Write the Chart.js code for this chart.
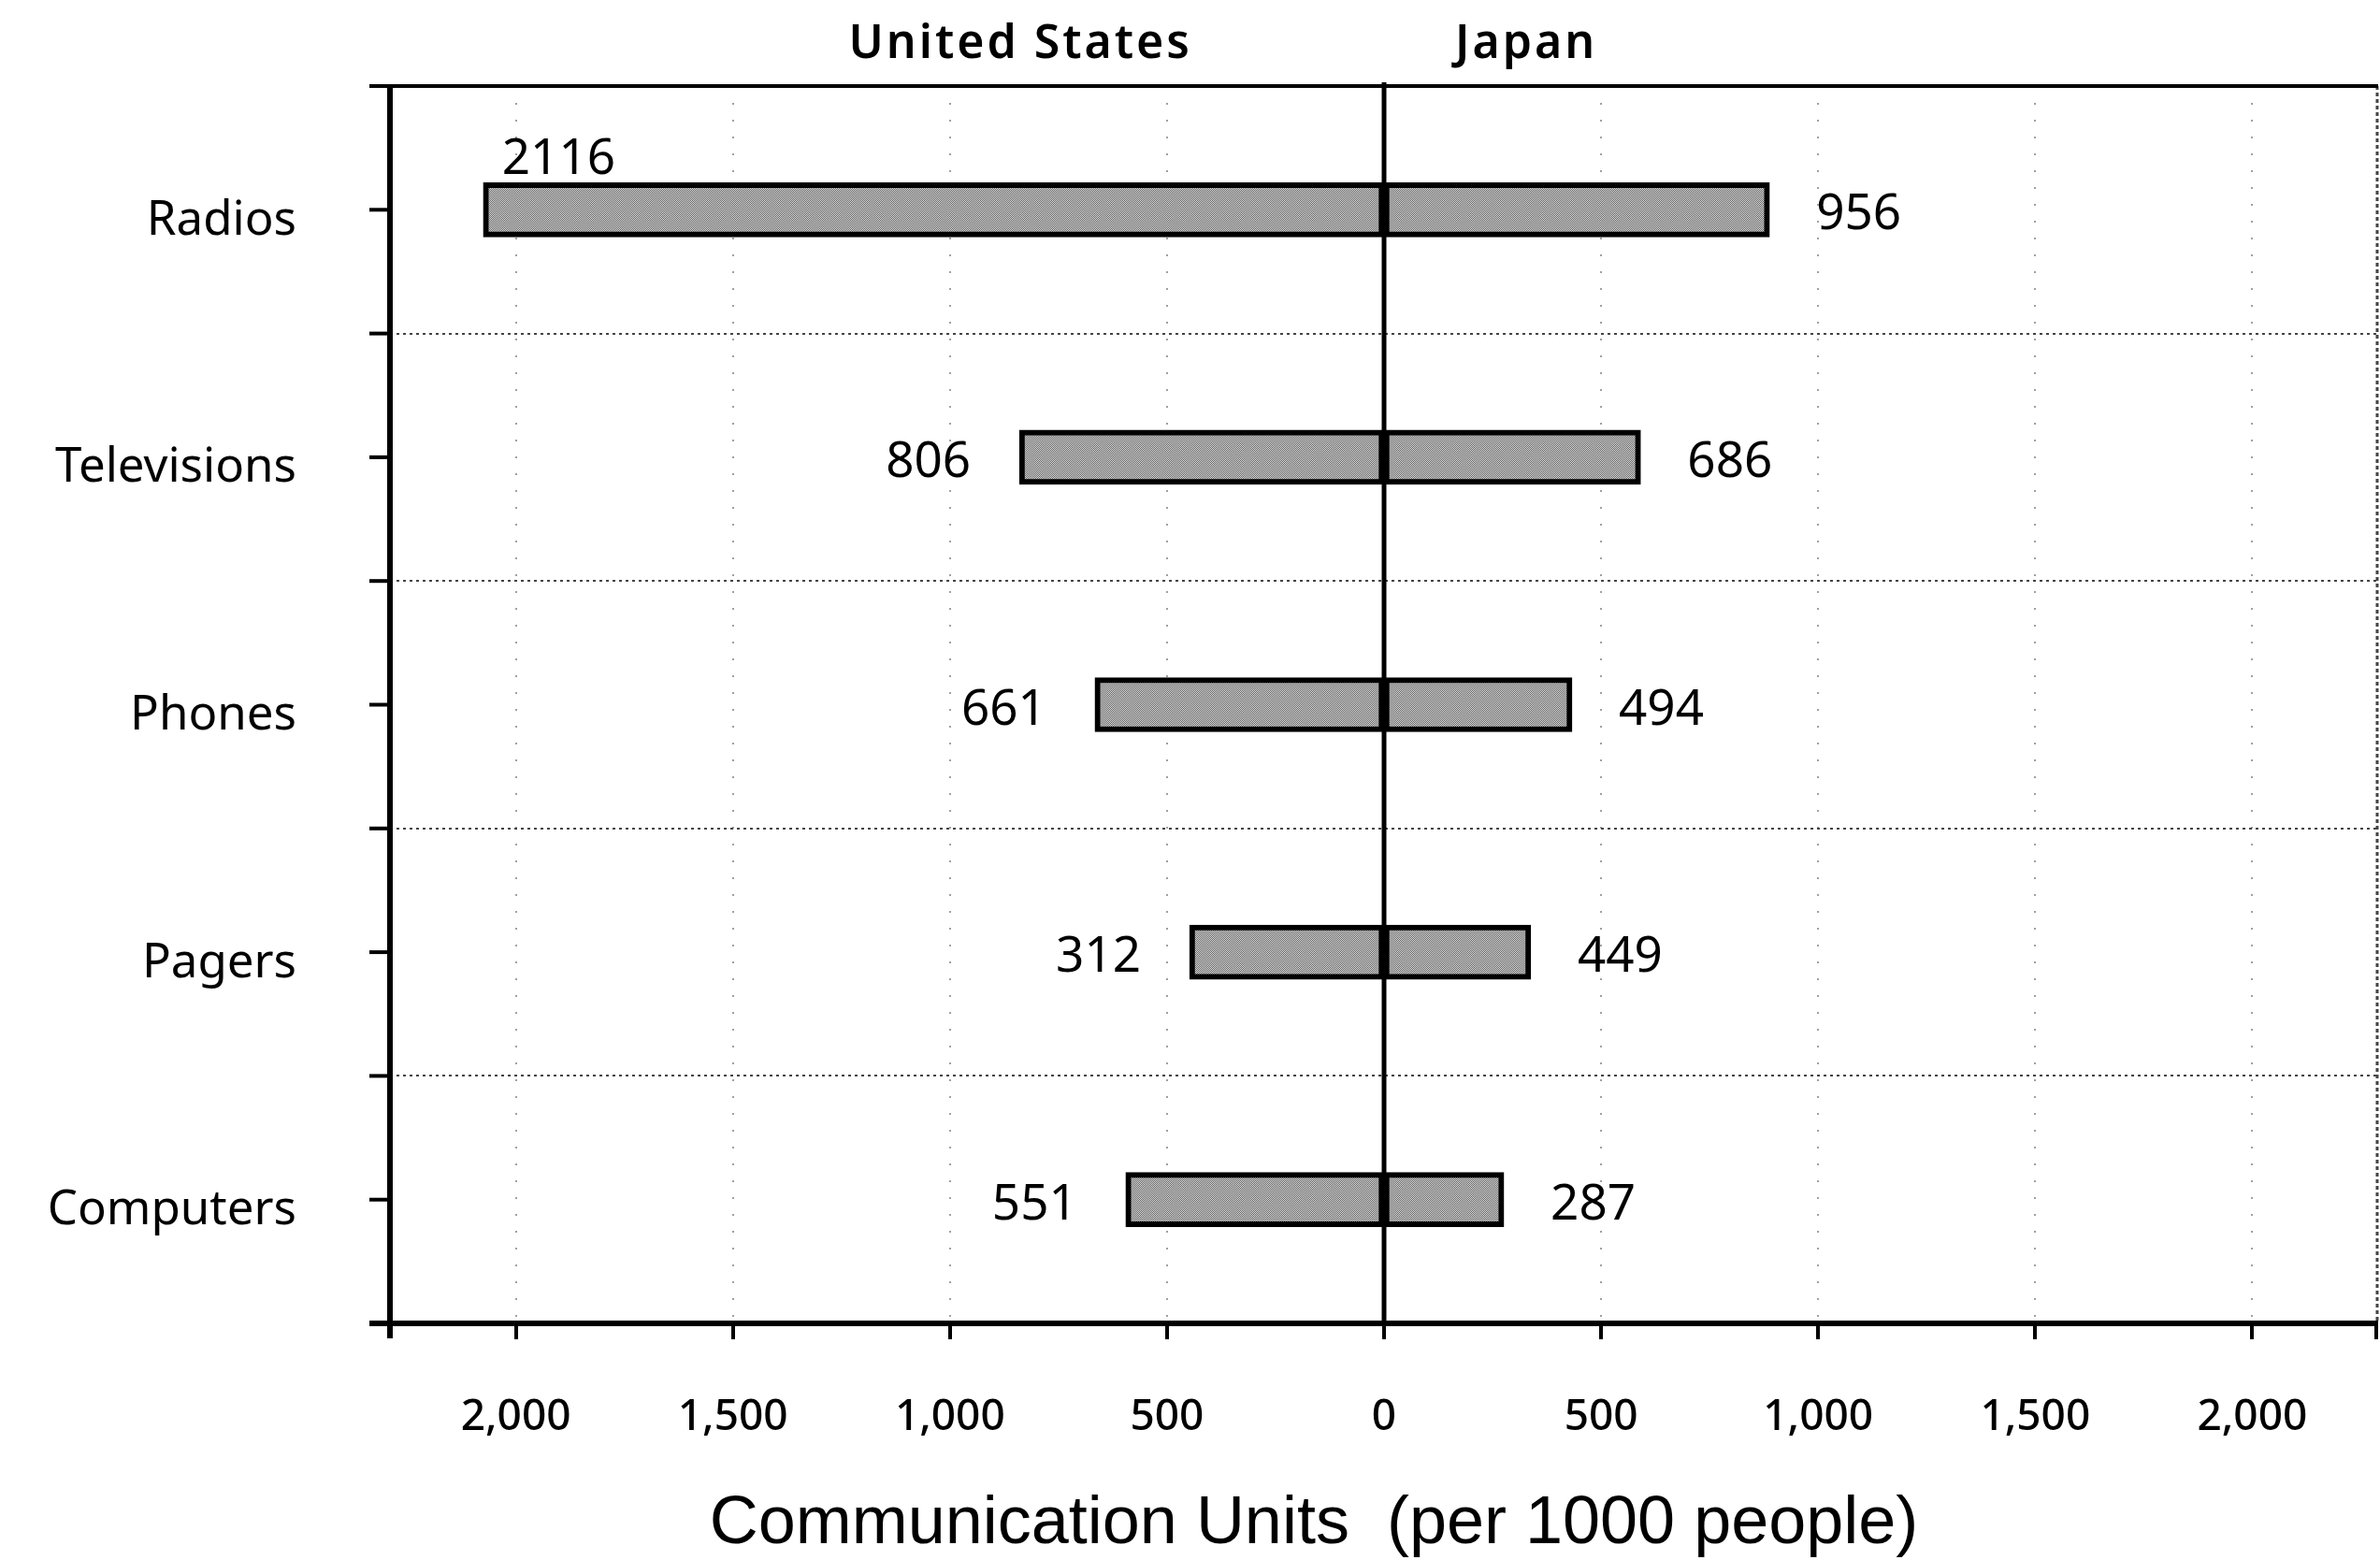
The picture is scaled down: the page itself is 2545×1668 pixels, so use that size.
<!DOCTYPE html>
<html><head><meta charset="utf-8">
<script src="https://cdn.jsdelivr.net/npm/chart.js@4/dist/chart.umd.min.js"></script>
<style>html,body{margin:0;padding:0;background:#fff;overflow:hidden}</style>
</head><body>
<canvas id="c" width="2545" height="1668" style="width:2545px;height:1668px;display:block"></canvas>
<script>
// ---- data ----
const categories = ['Radios', 'Televisions', 'Phones', 'Pagers', 'Computers'];
const usBarValues = [2075, 840, 666, 448, 595];      // bar lengths as drawn (US, left side)
const japanBarValues = [888, 591, 433, 338, 276];    // bar lengths as drawn (Japan, right side)
const usLabels = ['2116', '806', '661', '312', '551'];
const japanLabels = ['956', '686', '494', '449', '287'];
const tickValues = [-2000, -1500, -1000, -500, 0, 500, 1000, 1500, 2000];
const seriesNames = ['United States', 'Japan'];
const axisTitle = 'Communication Units  (per 1000 people)';
const axisMin = -2290, axisMax = 2290;

// ---- styling ----
const canvas = document.getElementById('c');
const mainCtx = canvas.getContext('2d');
function makePattern() {
  const t = document.createElement('canvas'); t.width = 4; t.height = 4;
  const g = t.getContext('2d');
  g.fillStyle = '#e2e2e2'; g.fillRect(0, 0, 4, 4);
  g.fillStyle = '#5c5c5c';
  for (let yy = 0; yy < 4; yy++) for (let xx = 0; xx < 4; xx++) if ((xx + yy) % 2 === 0) g.fillRect(xx, yy, 1, 1);
  return mainCtx.createPattern(t, 'repeat');
}
const barFill = makePattern();
const SANS = '"Noto Sans", "Open Sans", sans-serif';

function line(ctx, x1, y1, x2, y2) { ctx.beginPath(); ctx.moveTo(x1, y1); ctx.lineTo(x2, y2); ctx.stroke(); }

const decor = {
  id: 'decor',
  beforeDatasetsDraw(chart) {
    const { ctx, chartArea: a, scales: { x, y } } = chart;
    ctx.save();
    // faint dotted vertical grid
    ctx.strokeStyle = '#a0a0a0'; ctx.lineWidth = 2; ctx.setLineDash([2, 16]);
    tickValues.forEach(v => { if (v === 0) return; const px = Math.round(x.getPixelForValue(v)); line(ctx, px, a.top, px, a.bottom); });
    // dotted category boundaries
    ctx.strokeStyle = '#444'; ctx.lineWidth = 2; ctx.setLineDash([3, 4]);
    for (let i = 1; i < categories.length; i++) {
      const py = Math.round((y.getPixelForValue(i - 1) + y.getPixelForValue(i)) / 2);
      line(ctx, a.left, py, a.right, py);
    }
    // right edge
    ctx.strokeStyle = '#444'; ctx.lineWidth = 3; ctx.setLineDash([4, 3]);
    line(ctx, a.right - 1, a.top, a.right - 1, a.bottom);
    ctx.restore();
  },
  afterDatasetsDraw(chart) {
    const { ctx, chartArea: a, scales: { x, y } } = chart;
    ctx.save();
    ctx.setLineDash([]);
    ctx.strokeStyle = '#000';
    // top border
    ctx.lineWidth = 4; line(ctx, a.left - 22, a.top, a.right, a.top);
    // zero line
    const zx = Math.round(x.getPixelForValue(0));
    ctx.lineWidth = 5; line(ctx, zx, a.top - 4, zx, a.bottom);
    // left axis
    ctx.lineWidth = 6; line(ctx, a.left, a.top, a.left, a.bottom + 16);
    // bottom axis
    ctx.lineWidth = 6; line(ctx, a.left - 22, a.bottom, a.right, a.bottom);
    // left tick marks: category centres and boundaries
    ctx.lineWidth = 4;
    const step = y.getPixelForValue(1) - y.getPixelForValue(0);
    for (let i = 0; i < categories.length; i++) {
      const py = y.getPixelForValue(i);
      line(ctx, a.left - 22, py, a.left, py);
      line(ctx, a.left - 22, py + step / 2, a.left, py + step / 2);
    }
    // bottom tick marks
    tickValues.forEach(v => { const px = Math.round(x.getPixelForValue(v)); line(ctx, px, a.bottom, px, a.bottom + 17); });
    line(ctx, a.right - 2, a.bottom, a.right - 2, a.bottom + 17);

    // value labels
    ctx.fillStyle = '#000';
    ctx.font = '53px ' + SANS;
    ctx.textBaseline = 'middle';
    const gapL = 52, gapR = 50;
    const usMeta = chart.getDatasetMeta(0), jpMeta = chart.getDatasetMeta(1);
    categories.forEach((c, i) => {
      const ub = usMeta.data[i], jb = jpMeta.data[i];
      const cy = ub.y + 6;
      const uw = ctx.measureText(usLabels[i]).width;
      const ux = ub.x - gapL;
      if (ux - uw < a.left) {
        ctx.textAlign = 'left'; ctx.textBaseline = 'bottom';
        ctx.fillText(usLabels[i], ub.x + 20, ub.y - ub.height / 2 + 2);
        ctx.textBaseline = 'middle';
      } else {
        ctx.textAlign = 'right'; ctx.fillText(usLabels[i], ux, cy);
      }
      ctx.textAlign = 'left'; ctx.fillText(japanLabels[i], jb.x + gapR, cy);
    });

    // series headers above plot
    ctx.font = '600 50px ' + SANS;
    ctx.letterSpacing = '3px';
    ctx.textBaseline = 'middle';
    ctx.textAlign = 'right'; ctx.fillText(seriesNames[0], zx - 205, 48);
    ctx.textAlign = 'left'; ctx.fillText(seriesNames[1], zx + 76, 48);
    ctx.letterSpacing = '0px';

    // axis title (sits slightly left of the plot centre, as in the original)
    ctx.font = '72px "Liberation Sans", Arial, sans-serif';
    ctx.textAlign = 'center'; ctx.textBaseline = 'middle';
    ctx.fillText(axisTitle, (a.left + a.right) / 2 - 75, 1630);
    ctx.restore();
  }
};

new Chart(canvas, {
  type: 'bar',
  data: {
    labels: categories,
    datasets: [
      { label: seriesNames[0], data: usBarValues.map(v => -v),
        backgroundColor: barFill, borderColor: '#000', borderWidth: 6, borderSkipped: false, barThickness: 58 },
      { label: seriesNames[1], data: japanBarValues.slice(),
        backgroundColor: barFill, borderColor: '#000', borderWidth: 6, borderSkipped: false, barThickness: 58 }
    ]
  },
  options: {
    indexAxis: 'y',
    responsive: false,
    devicePixelRatio: 1,
    animation: false,
    layout: { padding: { left: 0, right: 2, top: 92, bottom: 0 } },
    plugins: { legend: { display: false }, tooltip: { enabled: false }, title: { display: false }, colors: { enabled: false } },
    scales: {
      x: {
        type: 'linear', stacked: true, min: axisMin, max: axisMax,
        grid: { display: false, drawTicks: false },
        border: { display: false },
        afterBuildTicks: s => { s.ticks = tickValues.map(v => ({ value: v })); },
        afterFit: s => { s.height = 253; },
        ticks: {
          autoSkip: false, maxRotation: 0, padding: 73,
          color: '#000', font: { family: SANS, size: 46, weight: '500' },
          callback: v => Math.abs(v).toLocaleString('en-US')
        },
        title: { display: false }
      },
      y: {
        stacked: true,
        grid: { display: false, drawTicks: false },
        border: { display: false },
        afterFit: s => { s.width = 417; s.paddingTop = 0; s.paddingBottom = 0; },
        ticks: {
          padding: 100, labelOffset: 12, color: '#000',
          font: { family: SANS, size: 51 }
        }
      }
    }
  },
  plugins: [decor]
});
</script>
</body></html>
